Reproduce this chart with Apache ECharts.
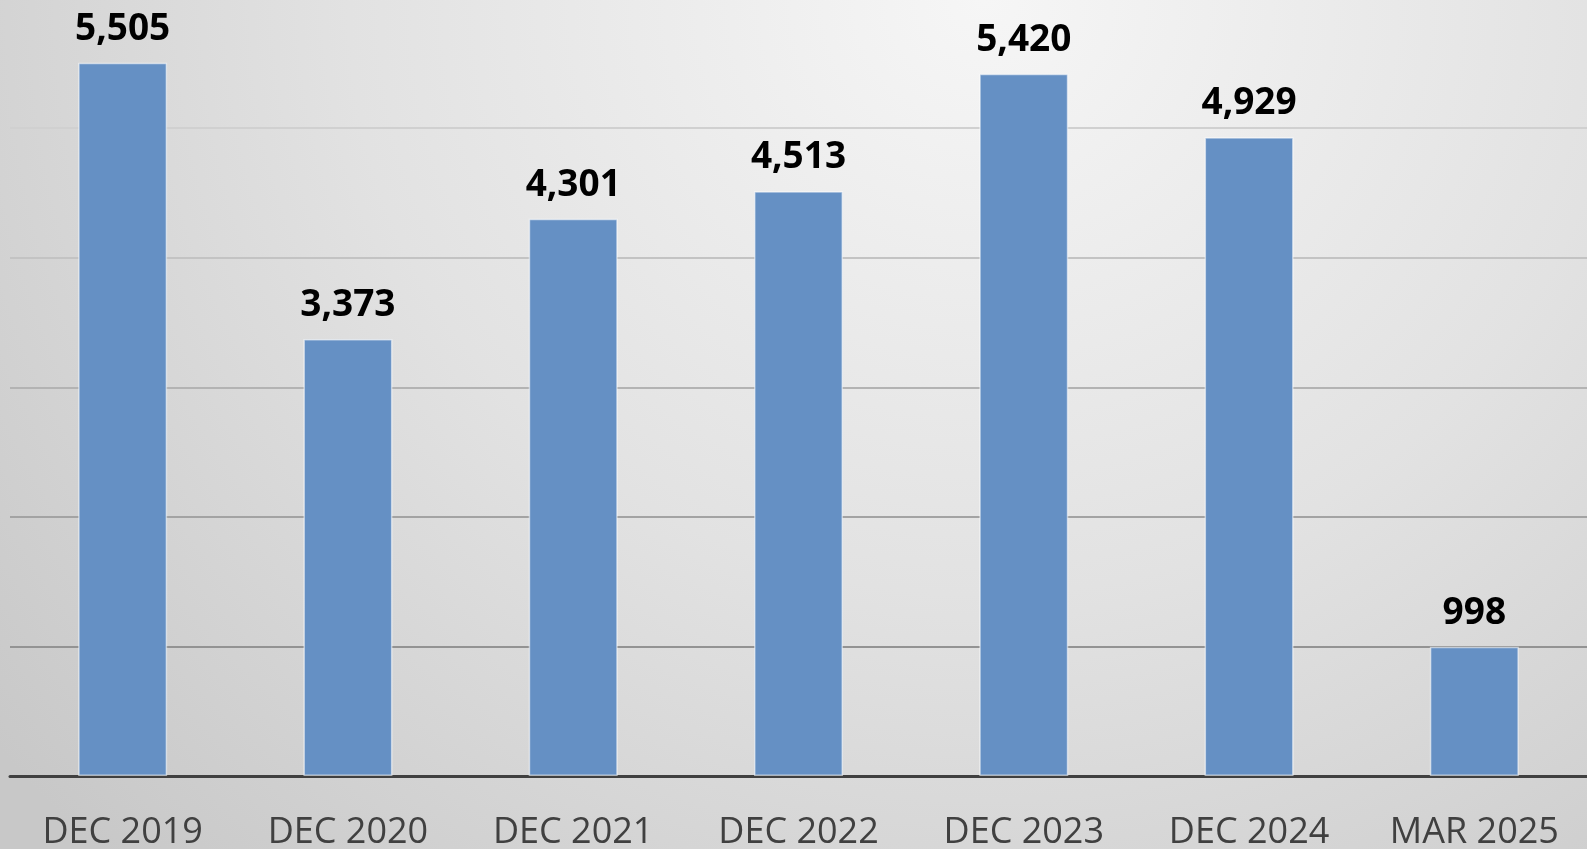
<!DOCTYPE html>
<html>
<head>
<meta charset="utf-8">
<script src="https://cdn.jsdelivr.net/npm/echarts@6/dist/echarts.min.js"></script>
<style>
html,body{margin:0;padding:0;width:1587px;height:849px;overflow:hidden;
background: radial-gradient(ellipse 80% 140% at 62% 0%, #f6f6f6 0%, #e2e2e2 50%, #c8c8c8 100%);}
#chart{width:1587px;height:849px;}
</style>
</head>
<body>
<div id="chart"></div>
<script>
const categories = ['DEC 2019','DEC 2020','DEC 2021','DEC 2022','DEC 2023','DEC 2024','MAR 2025'];
const values = [5505, 3373, 4301, 4513, 5420, 4929, 998];
const gridColors = ['#404040','#939393','#a3a3a3','#b3b3b3','#c3c3c3','#d0d0d0','rgba(0,0,0,0)'];

const chart = echarts.init(document.getElementById('chart'), null, {renderer:'canvas'});
chart.setOption({
  backgroundColor: 'transparent',
  animation: false,
  grid: {left: 10, right: 0, top: -1.5, bottom: 73, containLabel: false, outerBoundsMode: 'none'},
  xAxis: {
    type: 'category',
    data: categories,
    axisLine: {show: true, lineStyle: {color: '#404040', width: 3}},
    axisTick: {show: false},
    axisLabel: {color: '#404040', fontFamily: 'Open Sans', fontSize: 36, margin: 39}
  },
  yAxis: {
    type: 'value',
    min: 0, max: 6000, interval: 1000,
    axisLine: {show: false},
    axisTick: {show: false},
    axisLabel: {show: false},
    splitLine: {show: true, lineStyle: {color: gridColors, width: 2}}
  },
  series: [{
    type: 'bar',
    data: values,
    barWidth: '39.5%',
    itemStyle: {color: '#6590c4', borderColor: 'rgba(255,255,255,0.55)', borderWidth: 1.5},
    label: {
      show: true, position: 'top', distance: 15,
      color: '#000000', fontFamily: 'Open Sans', fontWeight: 'bold', fontSize: 37,
      formatter: p => p.value.toLocaleString('en-US')
    }
  }]
});
</script>
</body>
</html>
